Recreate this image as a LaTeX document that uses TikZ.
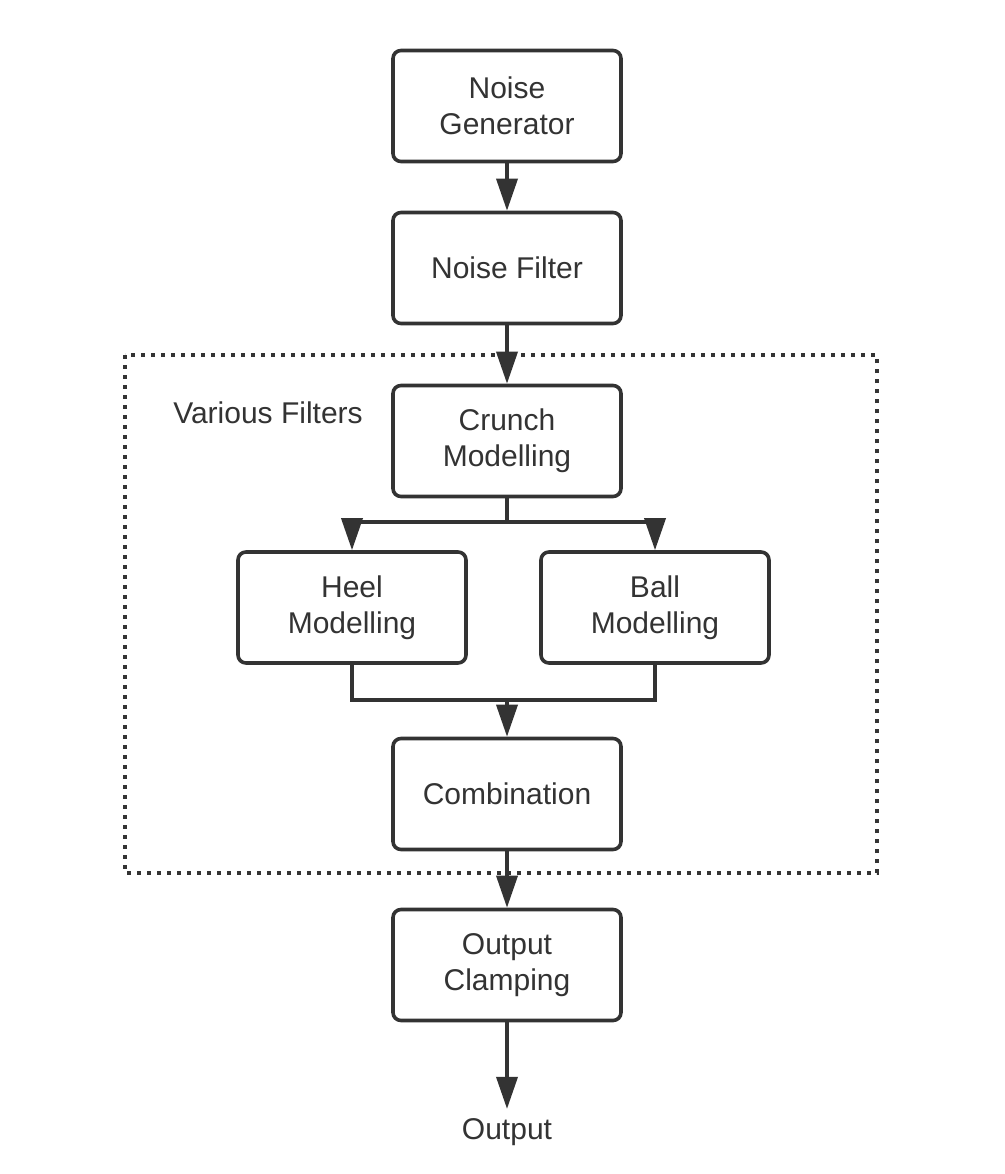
\documentclass[tikz,border=0pt]{standalone}
\usepackage{fontspec}
\setmainfont{Liberation Sans}
\usepackage{xcolor}
\usetikzlibrary{arrows.meta}
\definecolor{ink}{HTML}{333333}

\begin{document}
\begin{tikzpicture}[x=1pt, y=-1pt,
  block/.style={draw=ink, line width=3.6pt, rounded corners=8pt, minimum width=228pt, minimum height=111pt, align=center, text=ink, font=\fontsize{30}{36}\selectfont},
  flow/.style={draw=ink, line width=3.6pt, -{Triangle[length=32pt, width=21pt]}},
  link/.style={draw=ink, line width=3.6pt}]
  \useasboundingbox[fill=white] (0,0) rectangle (1004,1174);
  \draw[ink, line width=3.6pt, dash pattern=on 3.6pt off 6.4pt] (125,355) rectangle (877,873);
  \node[text=ink, font=\fontsize{30}{36}\selectfont] (various) at (268,413) {Various Filters};
  \node[block] (gen) at (507,106) {Noise\\Generator};
  \node[block] (nfilter) at (507,268) {Noise Filter};
  \node[block] (crunch) at (507,441) {Crunch\\Modelling};
  \node[block] (heel) at (352,607.5) {Heel\\Modelling};
  \node[block] (ball) at (655,607.5) {Ball\\Modelling};
  \node[block] (comb) at (507,794) {Combination};
  \node[block] (clamp) at (507,965) {Output\\Clamping};
  \node[text=ink, font=\fontsize{30}{36}\selectfont] (out) at (507,1132) {Output};
  \coordinate (split) at (507,522);
  \coordinate (merge) at (507,700);
  \draw[flow] (gen) -- (nfilter);
  \draw[flow] (nfilter) -- (crunch);
  \draw[link] (crunch) -- (split);
  \draw[flow] (split) -| (heel);
  \draw[flow] (split) -| (ball);
  \draw[link] (heel) |- (merge);
  \draw[link] (ball) |- (merge);
  \draw[flow] (merge) -- (comb);
  \draw[flow] (comb) -- (clamp);
  \draw[flow, shorten >=6pt] (clamp) -- (out);
\end{tikzpicture}
\end{document}
